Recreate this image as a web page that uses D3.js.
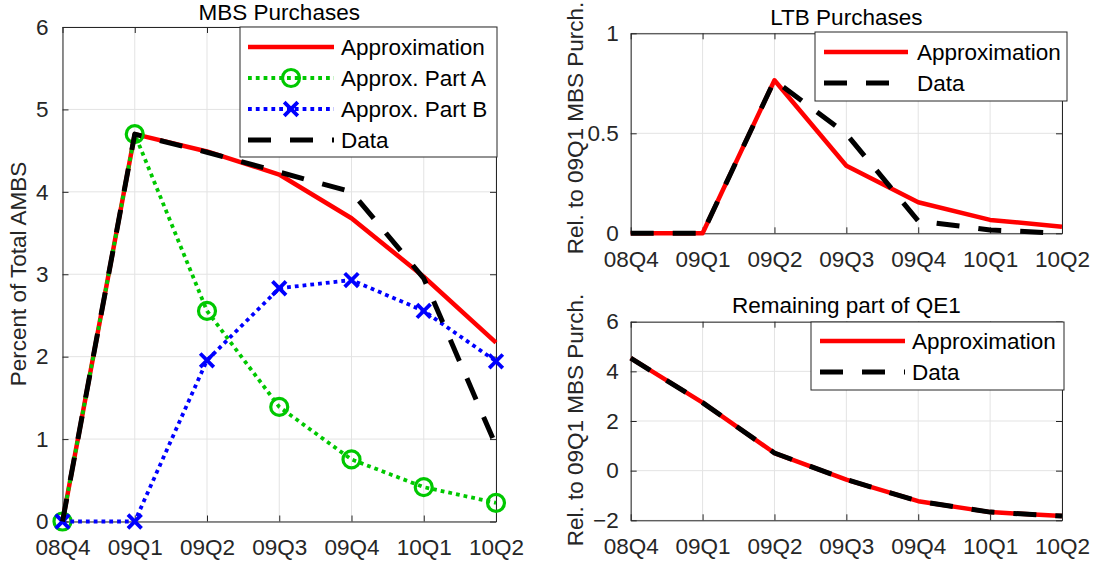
<!DOCTYPE html>
<html><head><meta charset="utf-8">
<script src="https://cdn.jsdelivr.net/npm/d3@7"></script>
<style>
html,body{margin:0;padding:0;background:#fff;}
svg{display:block;font-family:"Liberation Sans",Arial,Helvetica,sans-serif;}
</style></head>
<body><svg id="c" width="1100" height="565"></svg>
<script>
// ---- data ----
const quarters = ["08Q4","09Q1","09Q2","09Q3","09Q4","10Q1","10Q2"];
const mbsApprox = [0, 4.70, 4.49, 4.21, 3.68, 2.97, 2.17];
const mbsPartA  = [0, 4.70, 2.555, 1.39, 0.753, 0.417, 0.227];
const mbsPartB  = [0, 0, 1.956, 2.83, 2.93, 2.555, 1.944];
const mbsData   = [0, 4.70, 4.48, 4.24, 4.00, 2.95, 0.92];
const ltbApprox = [0, 0, 0.765, 0.338, 0.155, 0.067, 0.033];
const ltbData   = [0, 0, 0.765, 0.497, 0.062, 0.017, 0.0];
const remApprox = [4.53, 2.74, 0.71, -0.36, -1.23, -1.67, -1.83];
const remData   = [4.53, 2.74, 0.71, -0.36, -1.23, -1.67, -1.83];
const mbsYTicks = [0,1,2,3,4,5,6];
const ltbYTicks = [0,0.5,1];
const remYTicks = [-2,0,2,4,6];

const svg = d3.select("#c");
const AX = "#262626", GRID = "#e3e3e3", FS = 22.5;
const RED="#ff0000", GREEN="#00c800", BLUE="#0000ff", BLACK="#000000";

const styles = {
  approx:{color:RED, width:4.5, dash:null},
  partA:{color:GREEN, width:3.8, dash:"3.8,4", marker:"circle"},
  partB:{color:BLUE, width:3.8, dash:"3.8,4", marker:"x"},
  data:{color:BLACK, width:5, dash:"23,19"}
};

function panel(opt){
  const g = svg.append("g");
  const x = d3.scalePoint().domain(quarters).range([opt.x0, opt.x1]);
  const y = d3.scaleLinear().domain(opt.yDomain).range([opt.y0, opt.y1]);
  // grid
  g.append("g").selectAll("line").data(quarters).join("line")
    .attr("x1",d=>x(d)).attr("x2",d=>x(d)).attr("y1",opt.y0).attr("y2",opt.y1)
    .attr("stroke",GRID).attr("stroke-width",1);
  g.append("g").selectAll("line").data(opt.yTicks).join("line")
    .attr("x1",opt.x0).attr("x2",opt.x1).attr("y1",d=>y(d)).attr("y2",d=>y(d))
    .attr("stroke",GRID).attr("stroke-width",1);
  // axes
  const tl = 6;
  const xb = g.append("g").attr("transform",`translate(0,${opt.y0})`)
    .call(d3.axisBottom(x).tickSizeInner(-tl).tickSizeOuter(0).tickPadding(18));
  const xt = g.append("g").attr("transform",`translate(0,${opt.y1})`)
    .call(d3.axisTop(x).tickSizeInner(-tl).tickSizeOuter(0).tickFormat(""));
  const yl = g.append("g").attr("transform",`translate(${opt.x0},0)`)
    .call(d3.axisLeft(y).tickValues(opt.yTicks).tickSizeInner(-tl).tickSizeOuter(0).tickPadding(opt.ypad).tickFormat(d=>d3.format("")(d)));
  const yr = g.append("g").attr("transform",`translate(${opt.x1},0)`)
    .call(d3.axisRight(y).tickValues(opt.yTicks).tickSizeInner(-tl).tickSizeOuter(0).tickFormat(""));
  [xb,xt,yl,yr].forEach(a=>{
    a.select(".domain").attr("stroke",AX).attr("stroke-width",1);
    a.selectAll(".tick line").attr("stroke",AX);
    a.selectAll("text").attr("fill",AX).style("font-size",FS+"px").style("font-family","Liberation Sans, Arial, sans-serif");
  });
  xb.selectAll("text").attr("dy","0.71em");
  // title
  svg.append("text").attr("x",(opt.x0+opt.x1)/2).attr("y",opt.titleY)
    .attr("text-anchor","middle").attr("dominant-baseline","central")
    .style("font-size",FS+"px").attr("fill","#000").text(opt.title);
  // ylabel
  svg.append("text").attr("transform",`translate(${opt.ylabX},${opt.ylabY}) rotate(-90)`)
    .attr("text-anchor","middle").attr("dominant-baseline","central")
    .style("font-size",FS+"px").attr("fill",AX).text(opt.ylabel);
  // series
  const sg = svg.append("g");
  const line = d3.line().x((d,i)=>x(quarters[i])).y(d=>y(d));
  opt.series.forEach(s=>{
    const st = styles[s.style];
    sg.append("path").datum(s.values).attr("d",line).attr("fill","none")
      .attr("stroke",st.color).attr("stroke-width",st.width)
      .attr("stroke-dasharray",st.dash).attr("stroke-linejoin","round");
    if(st.marker){
      const m = sg.append("g").selectAll("g").data(s.values).join("g")
        .attr("transform",(d,i)=>`translate(${x(quarters[i])},${y(d)})`);
      drawMarker(m, st);
    }
  });
  // legend
  const L = opt.legend;
  const lg = svg.append("g");
  lg.append("rect").attr("x",L.x).attr("y",L.y).attr("width",L.w).attr("height",L.h)
    .attr("fill","#fff").attr("stroke",AX).attr("stroke-width",1);
  opt.series.forEach((s,i)=>{
    const st = styles[s.style];
    const yy = L.y + L.first + i*L.step;
    lg.append("line").attr("x1",L.x+L.s0).attr("x2",L.x+L.s1).attr("y1",yy).attr("y2",yy)
      .attr("stroke",st.color).attr("stroke-width",st.width).attr("stroke-dasharray",st.dash);
    if(st.marker){
      const m = lg.append("g").attr("transform",`translate(${L.x+(L.s0+L.s1)/2},${yy})`);
      drawMarker(m, st);
    }
    lg.append("text").attr("x",L.x+L.tx).attr("y",yy).attr("dominant-baseline","central")
      .style("font-size",FS+"px").attr("fill","#000").text(s.name);
  });
}
function drawMarker(sel, st){
  if(st.marker==="circle"){
    sel.append("circle").attr("r",8.5).attr("fill","none").attr("stroke",st.color).attr("stroke-width",3.2);
  } else if(st.marker==="x"){
    const r=6.8;
    sel.append("path").attr("d",`M${-r},${-r}L${r},${r}M${-r},${r}L${r},${-r}`)
      .attr("stroke",st.color).attr("stroke-width",3.8).attr("fill","none");
  }
}

panel({id:"a", x0:62.5, x1:496, y0:521.5, y1:27, yDomain:[0,6], yTicks:mbsYTicks, ypad:14,
  title:"MBS Purchases", titleY:12, ylabel:"Percent of Total AMBS", ylabX:18, ylabY:274,
  series:[{name:"Approximation",values:mbsApprox,style:"approx"},
          {name:"Approx. Part A",values:mbsPartA,style:"partA"},
          {name:"Approx. Part B",values:mbsPartB,style:"partB"},
          {name:"Data",values:mbsData,style:"data"}],
  legend:{x:240,y:27,w:257,h:130,first:20,step:31,s0:8,s1:94,tx:101}});
panel({id:"b", x0:630.7, x1:1062, y0:233.3, y1:33.3, yDomain:[0,1], yTicks:ltbYTicks, ypad:12,
  title:"LTB Purchases", titleY:17, ylabel:"Rel. to 09Q1 MBS Purch.", ylabX:575, ylabY:128,
  series:[{name:"Approximation",values:ltbApprox,style:"approx"},
          {name:"Data",values:ltbData,style:"data"}],
  legend:{x:815,y:32,w:252,h:69,first:20,step:31,s0:9,s1:93,tx:102}});
panel({id:"c", x0:630.7, x1:1062, y0:520.3, y1:321.7, yDomain:[-2,6], yTicks:remYTicks, ypad:12,
  title:"Remaining part of QE1", titleY:305, ylabel:"Rel. to 09Q1 MBS Purch.", ylabX:575, ylabY:420,
  series:[{name:"Approximation",values:remApprox,style:"approx"},
          {name:"Data",values:remData,style:"data"}],
  legend:{x:811,y:322,w:253,h:68,first:19,step:31,s0:9,s1:94,tx:101}});
</script></body></html>
